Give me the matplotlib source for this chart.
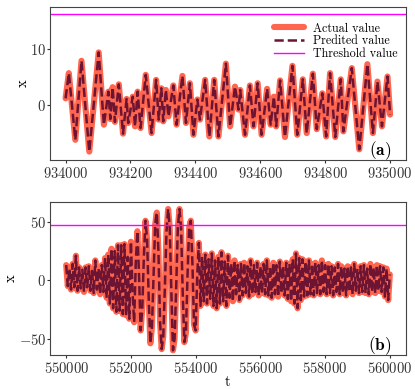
import numpy as np
import matplotlib
matplotlib.use("Agg")
import matplotlib.pyplot as plt
from matplotlib.ticker import MultipleLocator

plt.rcParams['font.family'] = 'serif'
plt.rcParams['font.serif'] = ['cmr10', 'DejaVu Serif']
plt.rcParams['mathtext.fontset'] = 'cm'
plt.rcParams['axes.formatter.use_mathtext'] = True
plt.rcParams['axes.unicode_minus'] = True

# ---------------- panel (a) data ----------------
t_a = [934000, 934010, 934030, 934049, 934073, 934102, 934118, 934132, 934138, 934145,
       934152, 934164, 934177, 934188, 934193, 934207, 934214, 934222, 934231, 934247,
       934265, 934279, 934287, 934295, 934301, 934309, 934317, 934332, 934342, 934360,
       934371, 934383, 934394, 934406, 934414, 934430, 934443, 934458, 934471, 934494,
       934507, 934522, 934533, 934538, 934553, 934568, 934579, 934592, 934604, 934621,
       934632, 934642, 934649, 934661, 934676, 934699, 934714, 934731, 934743, 934762,
       934774, 934791, 934803, 934815, 934831, 934848, 934856, 934882, 934905, 934930,
       934947, 934961, 934975, 934992, 935000]
actual_a = [1.2, 5.7, -6.2, 7.9, -8.3, 9.4, -3.5, 2.4, -2.5, 3.2,
            -3.0, 3.7, -5.1, 1.1, -3.2, 1.5, -3.8, 2.4, -4.1, 5.4,
            -5.0, 4.5, -2.6, 3.0, -2.9, 2.7, -2.0, 3.5, -3.5, 5.2,
            -3.2, 3.9, -5.3, 1.0, -2.6, 4.5, -5.6, 4.5, -5.6, 7.4,
            -3.8, 3.3, -0.8, 2.7, -5.3, 3.5, -3.8, 3.9, -5.3, 2.9,
            -3.5, 1.5, -3.8, 4.4, -5.7, 7.0, -5.3, 4.6, -5.0, 5.6,
            -4.3, 2.1, -5.6, 5.7, -5.7, 4.6, -4.7, 6.6, -7.9, 7.3,
            -5.0, 4.2, -3.8, 5.1, -1.7]
pred_a = list(actual_a)
threshold_a = 16.25

# ---------------- panel (b) data ----------------
t_b_start, t_b_step = 550000, 50
actual_b = [13, -5, 10, -8, 14, -6, 21, -9, 11, -7,
            9, -10, 11, -6, 12, -9, 8, -11, 17, -8,
            10, -12, 13, -10, 19, -15, 22, -20, 27, -24,
            25, -27, 30, -26, 30, -29, 31, -30, 20, -33,
            33, -10, -36, 15, 42, 5, -43, -25, 20, 51,
            35, -15, -54, -40, 5, 48, 58, 25, -35, -59,
            -48, -5, 42, 61, 45, -10, -60, -50, -5, 45,
            61, 45, -10, -53, -45, 5, 45, 51, 15, -38,
            -43, 5, 32, -22, 20, -18, 22, -20, 18, -16,
            23, -22, 17, -24, 20, -20, 24, -18, 16, -22,
            21, -15, 14, -18, 17, -12, 13, -17, 14, -13,
            15, -11, 12, -14, 17, -12, 13, -10, 15, -13,
            12, -11, 14, -12, 17, -13, 12, -15, 15, -12,
            13, -14, 16, -11, 12, -13, 15, -16, 14, -18,
            18, -20, 23, -24, 19, -17, 18, -14, 16, -13,
            17, -12, 14, -13, 15, -11, 13, -12, 17, -10,
            13, -12, 14, -11, 12, -13, 11, -10, 14, -12,
            12, -11, 10, -13, 12, -10, 11, -12, 14, -9,
            10, -11, 12, -10, 13, -11, 10, -12, 14, -10,
            11, -11, 13, -9, 12, -10, 11, -14, 10, -17,
            5]
t_b = t_b_start + t_b_step * np.arange(len(actual_b))
pred_b = list(actual_b)
threshold_b = 47.0

c_act = '#FF5E45'
c_pred = '#6E1433'
c_thr = '#FF00FF'

fig = plt.figure(figsize=(4.15, 3.89), dpi=100)
ax1 = fig.add_axes([0.1205, 0.5887, 0.8578, 0.3933])
ax2 = fig.add_axes([0.1205, 0.0874, 0.8578, 0.3933])

for ax, t, a, p, thr, lab in [(ax1, t_a, actual_a, pred_a, threshold_a, 'a'),
                              (ax2, t_b, actual_b, pred_b, threshold_b, 'b')]:
    ax.plot(t, a, color=c_act, lw=4.4, solid_joinstyle='round', solid_capstyle='round',
            label='Actual value', alpha=0.95)
    ax.plot(t, p, color=c_pred, lw=1.8, ls='--', label='Predited value')
    ax.axhline(thr, color=c_thr, lw=1.0, label='Threshold value')
    ax.text(0.927, 0.062, r'$\mathbf{(%s)}$' % lab, transform=ax.transAxes,
            ha='center', va='center', fontsize=12.5)
    ax.set_ylabel('x', fontsize=10.5, labelpad=0.5)
    ax.tick_params(labelsize=10.5, colors='#333333', length=2)
    ax.tick_params(axis='y', pad=0.8)
    ax.tick_params(axis='x', pad=2.6)
    for s in ax.spines.values():
        s.set_color('#444444')

ax1.set_ylim(-9.8, 17.5)
ax1.set_xlim(933952, 935049)
ax1.yaxis.set_major_locator(MultipleLocator(10))
ax1.xaxis.set_major_locator(MultipleLocator(200))
ax1.ticklabel_format(useOffset=False, style='plain', axis='x')

ax2.set_ylim(-64, 67)
ax2.set_xlim(549500, 560500)
ax2.yaxis.set_major_locator(MultipleLocator(50))
ax2.xaxis.set_major_locator(MultipleLocator(2000))
ax2.ticklabel_format(useOffset=False, style='plain', axis='x')
ax2.set_xlabel('t', fontsize=10.5, labelpad=-0.5)

ax1.legend(loc='upper left', frameon=False, fontsize=8.7, bbox_to_anchor=(0.615, 0.93),
           handlelength=2.5, handletextpad=0.75, labelspacing=0.05, borderaxespad=0.0)

fig.savefig('out.png', dpi=100)
